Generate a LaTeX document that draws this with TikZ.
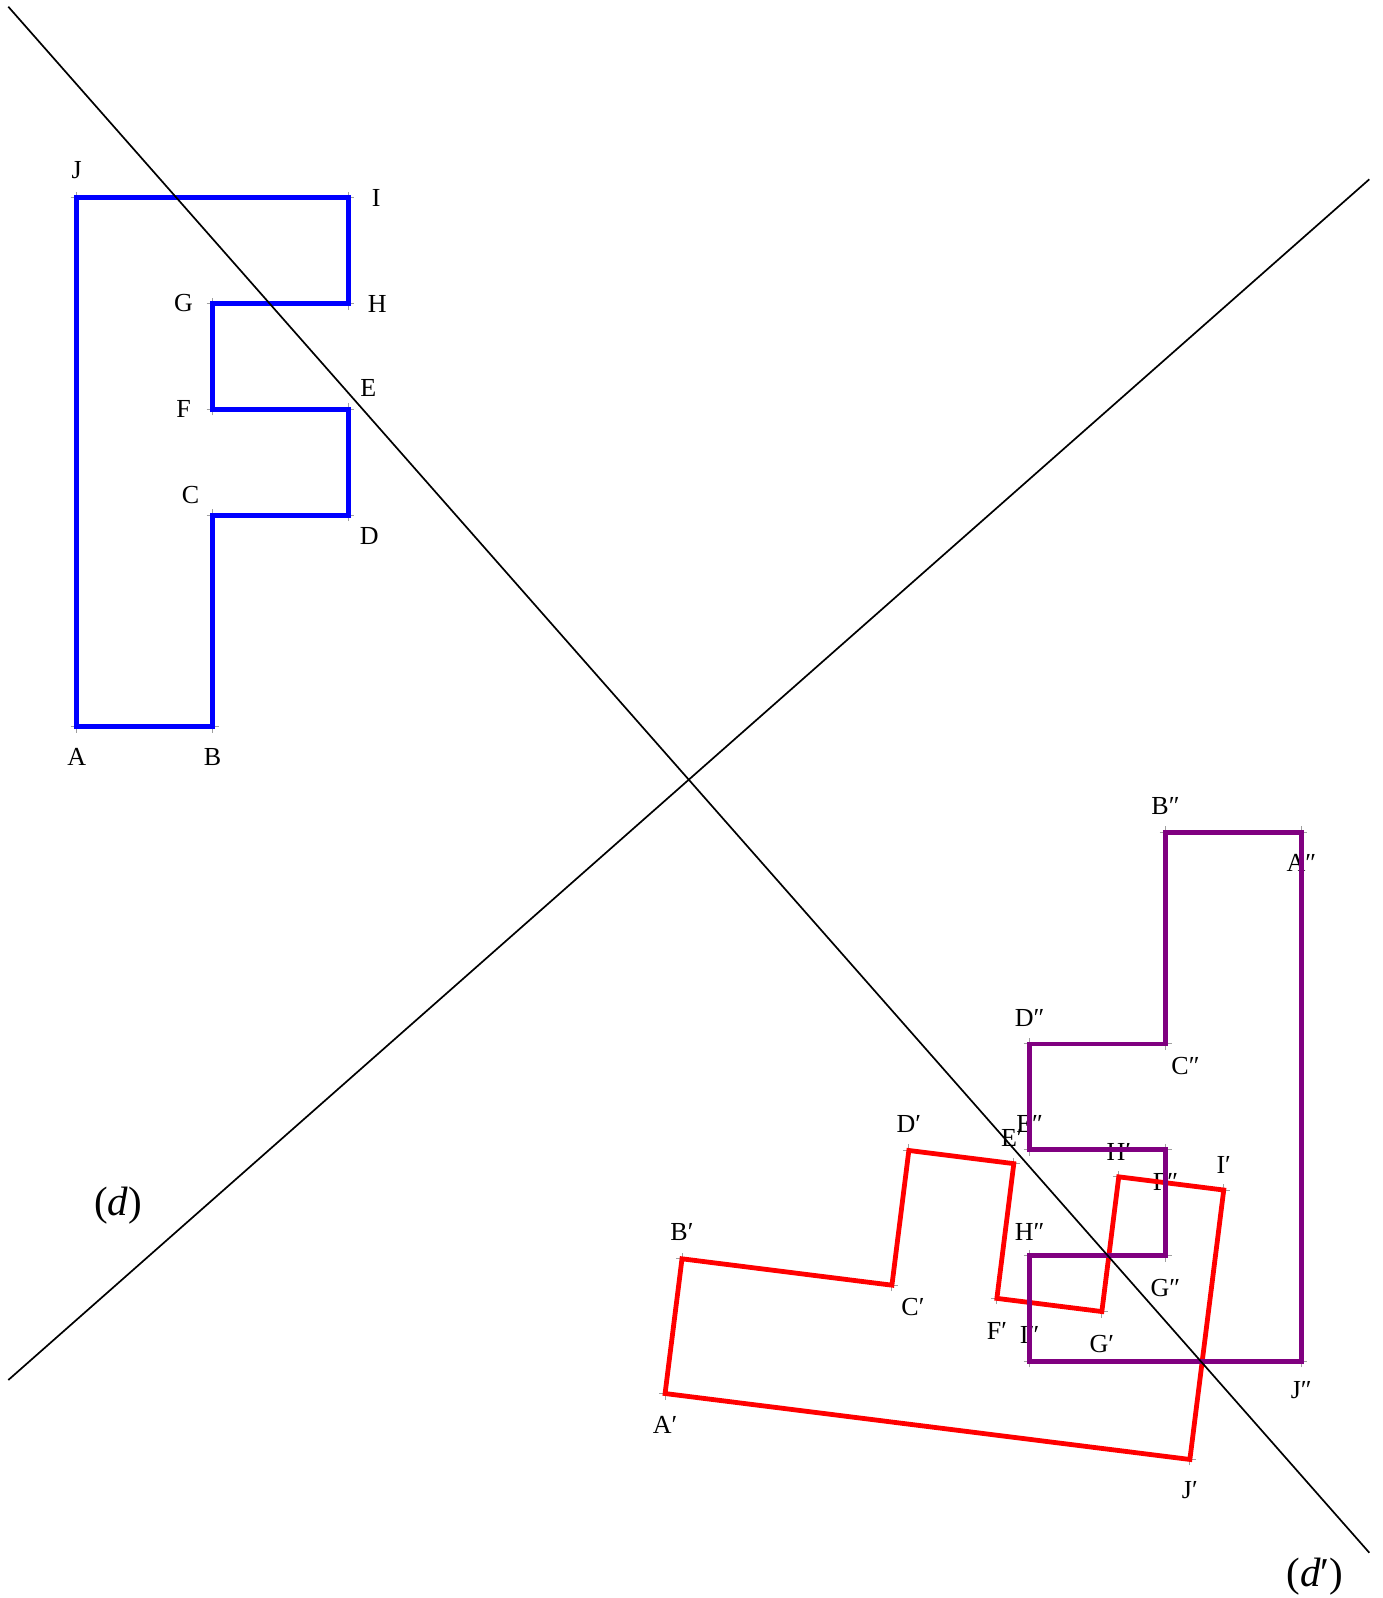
\documentclass[tikz,border=0pt]{standalone}
\usepackage{fontspec}
\setmainfont{Liberation Serif}
\definecolor{fblue}{RGB}{0,0,255}
\definecolor{fred}{RGB}{255,0,0}
\definecolor{fpur}{RGB}{128,0,128}
\newcommand\lab[4]{\path (#1) ++(#2,#3) node[lbl] (l#1) {#4};}
\begin{document}
\begin{tikzpicture}[x=1pt,y=1pt,
  lbl/.style={font=\fontsize{26}{31}\selectfont, inner sep=0pt},
  big/.style={font=\fontsize{41}{48}\selectfont, inner sep=0pt},
  fig/.style={line width=4.8pt, line join=miter},
  mk/.style={draw=gray!75, line width=1pt},
  axisline/.style={line width=1.7pt, black}]
\useasboundingbox (0,0) rectangle (1383,-1598);
\def\pts{A/76.7/-726.7,B/212.5/-726.7,C/212.5/-515.1,D/348.3/-515.1,E/348.3/-409.3,F/212.5/-409.3,G/212.5/-303.5,H/348.3/-303.5,I/348.3/-197.7,J/76.7/-197.7}
\foreach \n/\x/\y in \pts {\coordinate (\n) at (\x,\y);}
% reflection across d'
\begin{scope}[shift={(689,-779.5)}, rotate=41.42, yscale=-1, rotate=-41.42, shift={(-689,779.5)}]
\foreach \n/\x/\y in \pts {\coordinate (\n1) at (\x,\y);}
\end{scope}
% reflection of the image across d (half-turn about O)
\begin{scope}[rotate around={180:(689,-779.5)}]
\foreach \n/\x/\y in \pts {\coordinate (\n2) at (\x,\y);}
\end{scope}
% lines
\coordinate (d1) at (8.3,-6.7);
\coordinate (d2) at (1369.3,-1552.7);
\coordinate (e1) at (8.3,-1380);
\coordinate (e2) at (1369.3,-179.3);
% vertex marks
\foreach \p in {A,B,C,D,E,F,G,H,I,J,A1,B1,C1,D1,E1,F1,G1,H1,I1,J1,A2,B2,C2,D2,E2,F2,G2,H2,I2,J2}
  {\draw[mk] (\p) ++(-6,0) -- ++(12,0) (\p) ++(0,-6) -- ++(0,12);}
% labels
\lab{A}{0}{-30}{A}
\lab{B}{0}{-30}{B}
\lab{C}{-22}{20}{C}
\lab{D}{21}{-21}{D}
\lab{E}{20}{21}{E}
\lab{F}{-29}{0}{F}
\lab{G}{-29}{0}{G}
\lab{H}{29}{0}{H}
\lab{I}{28}{0}{I}
\lab{J}{0}{28}{J}
\lab{A1}{0}{-31}{A′}
\lab{B1}{0}{27}{B′}
\lab{C1}{21}{-22}{C′}
\lab{D1}{0}{26}{D′}
\lab{E1}{-2}{26}{E′}
\lab{F1}{0}{-33}{F′}
\lab{G1}{0}{-32}{G′}
\lab{H1}{0}{25}{H′}
\lab{I1}{0}{25}{I′}
\lab{J1}{0}{-31}{J′}
\lab{A2}{0}{-31}{A″}
\lab{B2}{0}{26}{B″}
\lab{C2}{20}{-22}{C″}
\lab{D2}{0}{26}{D″}
\lab{E2}{0}{26}{E″}
\lab{F2}{0}{-32}{F″}
\lab{G2}{0}{-33}{G″}
\lab{H2}{0}{24}{H″}
\lab{I2}{0}{26}{I″}
\lab{J2}{0}{-29}{J″}
\node[big] (ld) at (118,-1206) {(\textit{d})};
\node[big] (ldp) at (1315,-1577) {(\textit{d}′)};
% figures
\draw[fig, fblue] (A) -- (B) -- (C) -- (D) -- (E) -- (F) -- (G) -- (H) -- (I) -- (J) -- cycle;
\draw[fig, fred] (A1) -- (B1) -- (C1) -- (D1) -- (E1) -- (F1) -- (G1) -- (H1) -- (I1) -- (J1) -- cycle;
\draw[fig, fpur] (A2) -- (B2) -- (C2) -- (D2) -- (E2) -- (F2) -- (G2) -- (H2) -- (I2) -- (J2) -- cycle;
\draw[axisline] (d1) -- (d2);
\draw[axisline] (e1) -- (e2);
\end{tikzpicture}
\end{document}
